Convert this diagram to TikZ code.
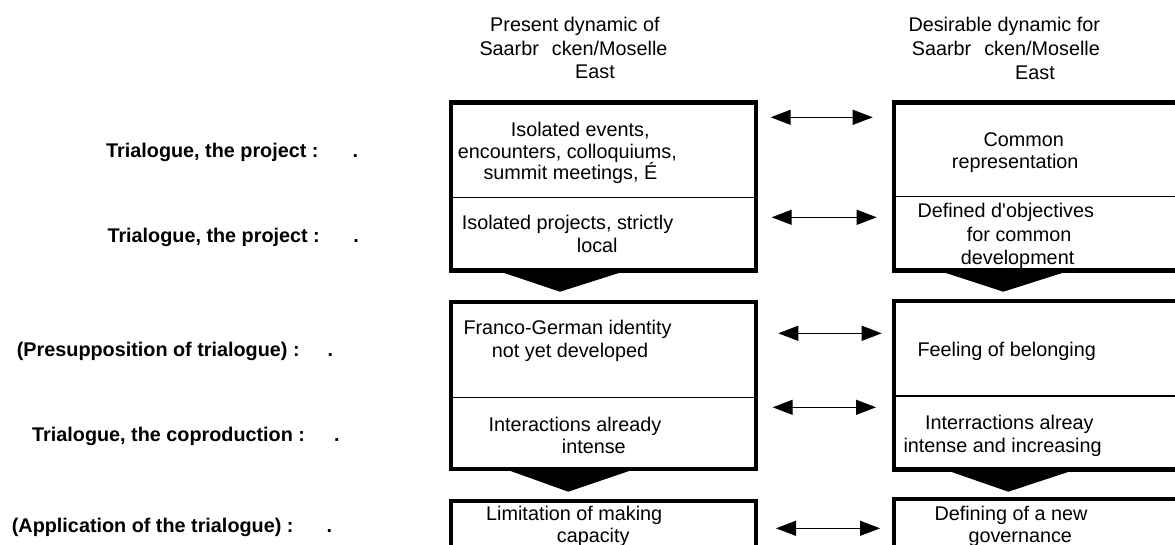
\documentclass[tikz,border=0pt]{standalone}
\usepackage{fontspec}
\setmainfont{Liberation Sans}[Ligatures=TeXOff]
\usetikzlibrary{arrows.meta}
\begin{document}
\begin{tikzpicture}[x=1pt,y=-1pt,
  txt/.style={font=\fontsize{19.8}{23}\selectfont, inner sep=0pt, anchor=base west},
  lbl/.style={font=\fontsize{19.8}{23}\selectfont\bfseries, inner sep=0pt, anchor=base west},
  cell/.style={draw, line width=4.5pt, inner sep=0pt, outer sep=0pt},
  divider/.style={line width=1.3pt},
  dbl/.style={line width=1.2pt, {Triangle[length=20pt,width=15pt]}-{Triangle[length=20pt,width=15pt]}},
  chevron/.style={fill=black}]
\useasboundingbox (0,0) rectangle (1175,544);
\clip (0,0) rectangle (1175,544);

% headers
\node[txt] (hl1) at (490,31) {Present dynamic of};
\node[txt] (hl2) at (479.3,55.3) {Saarbr\hspace{13pt}cken/Moselle};
\node[txt] (hl3) at (575,78.7) {East};
\node[txt] (hr1) at (908.3,31) {Desirable dynamic for};
\node[txt] (hr2) at (911.7,55) {Saarbr\hspace{13pt}cken/Moselle};
\node[txt] (hr3) at (1015,79) {East};

% row labels
\node[lbl] (r1) at (106,157.7) {Trialogue, the project :\hspace{34pt}.};
\node[lbl] (r2) at (107.3,242) {Trialogue, the project :\hspace{33.5pt}.};
\node[lbl] (r3) at (16.7,356) {(Presupposition of trialogue) :\hspace{28pt}.};
\node[lbl] (r4) at (32,441) {Trialogue, the coproduction :\hspace{29pt}.};
\node[lbl] (r5) at (11.7,532) {(Application of the trialogue) :\hspace{33pt}.};

% boxes
\node[cell, minimum width=305.2pt, minimum height=168pt] (L1) at (603.4,186.5) {};
\node[cell, minimum width=305.8pt, minimum height=168pt] (R1) at (1047.1,186.5) {};
\node[cell, minimum width=305.2pt, minimum height=167pt] (L2) at (603.4,385.5) {};
\node[cell, minimum width=305.8pt, minimum height=168.7pt] (R2) at (1047.1,385.35) {};
\node[cell, minimum width=305.2pt, minimum height=99pt] (L3) at (603.4,550.5) {};
\node[cell, minimum width=305.8pt, minimum height=101pt] (R3) at (1047.1,549.5) {};

% dividers
\draw[divider] (452,197.3) -- (755,197.3);
\draw[divider] (896,196.7) -- (1200,196.7);
\draw[divider] (452,397.3) -- (755,397.3);
\draw[divider] (896,396) -- (1200,396);

% chevrons
\fill[chevron] (496.7,270.5) -- (626.7,270.5) -- (560,291.7) -- cycle;
\fill[chevron] (505,469) -- (635,469) -- (568.3,491.7) -- cycle;
\fill[chevron] (938.3,270.5) -- (1070,270.5) -- (1003.3,291.7) -- cycle;
\fill[chevron] (945,469.7) -- (1075,469.7) -- (1008.3,491.7) -- cycle;

% double arrows
\coordinate (a1l) at (770.7,117.3); \coordinate (a1r) at (872.7,117.3);
\coordinate (a2l) at (771.7,217.3); \coordinate (a2r) at (876.7,217.3);
\coordinate (a3l) at (778.3,333.3); \coordinate (a3r) at (881.7,333.3);
\coordinate (a4l) at (772.7,407.3); \coordinate (a4r) at (876,407.3);
\coordinate (a5l) at (776,528.3);   \coordinate (a5r) at (880,528.3);
\draw[dbl] (a1l) -- (a1r);
\draw[dbl] (a2l) -- (a2r);
\draw[dbl] (a3l) -- (a3r);
\draw[dbl] (a4l) -- (a4r);
\draw[dbl] (a5l) -- (a5r);

% left column texts
\node[txt] (t1a) at (510.7,136) {Isolated events,};
\node[txt] (t1b) at (457.7,158) {encounters, colloquiums,};
\node[txt] (t1c) at (483.3,179) {summit meetings, É};
\node[txt] (t2a) at (461.7,229) {Isolated projects, strictly};
\node[txt] (t2b) at (576.7,252) {local};
\node[txt] (t3a) at (463.3,334) {Franco-German identity};
\node[txt] (t3b) at (491.7,357) {not yet developed};
\node[txt] (t4a) at (488.3,431) {Interactions already};
\node[txt] (t4b) at (561.7,453.7) {intense};
\node[txt] (t5a) at (486,520) {Limitation of making};
\node[txt] (t5b) at (556.7,542) {capacity};

% right column texts
\node[txt] (u1a) at (983.3,146) {Common};
\node[txt] (u1b) at (951.7,168.7) {representation};
\node[txt] (u2a) at (917.3,217.7) {Defined d'objectives};
\node[txt] (u2b) at (966.7,241) {for common};
\node[txt] (u2c) at (960.7,264.3) {development};
\node[txt] (u3a) at (917.3,356.3) {Feeling of belonging};
\node[txt] (u4a) at (925,429.3) {Interractions alreay};
\node[txt] (u4b) at (903.3,452.7) {intense and increasing};
\node[txt] (u5a) at (934.3,520.3) {Defining of a new};
\node[txt] (u5b) at (968.3,542) {governance};
\end{tikzpicture}
\end{document}
